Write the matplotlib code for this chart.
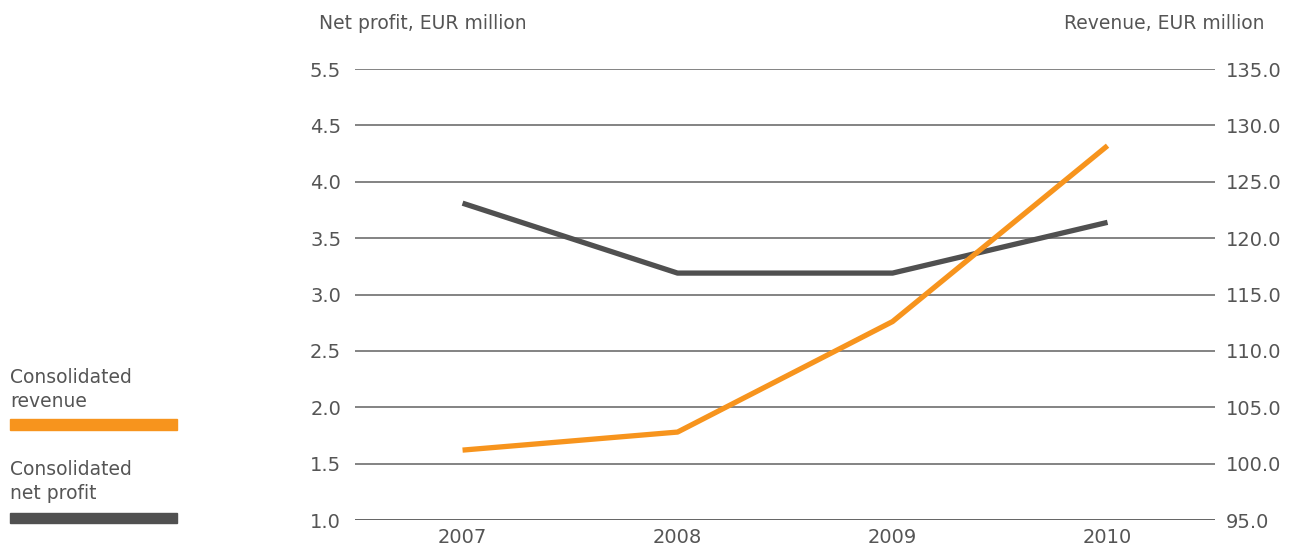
import matplotlib.pyplot as plt
from matplotlib.patches import Rectangle

# Yearly figures, EUR million
years = ['2007', '2008', '2009', '2010']
net_profit = [3.81, 3.19, 3.19, 3.64]
revenue = [101.2, 102.8, 112.6, 128.2]

# left scale: evenly spaced lines, the top one carries the label 5.5
profit_ticks = [1.0, 1.5, 2.0, 2.5, 3.0, 3.5, 4.0, 4.5, 5.0]
profit_labels = ['1.0', '1.5', '2.0', '2.5', '3.0', '3.5', '4.0', '4.5', '5.5']
revenue_ticks = [95.0, 100.0, 105.0, 110.0, 115.0, 120.0, 125.0, 130.0, 135.0]

ORANGE = '#F7941D'
DARK = '#505050'
TEXT = '#555555'
GRID = '#7a7a7a'

plt.rcParams['font.family'] = ['DejaVu Sans']

fig = plt.figure(figsize=(12.93, 5.49), dpi=100)
ax = fig.add_axes([0.2746, 0.0528, 0.6651, 0.8215])
ax2 = ax.twinx()

x = list(range(len(years)))

for v in profit_ticks:
    ax.axhline(v, color=GRID if v > 1.0 else '#555555',
               lw=1.3 if v > 1.0 else 2.0, zorder=1)

ax.plot(x, net_profit, color=DARK, lw=3.8, solid_capstyle='butt', zorder=3)
ax2.plot(x, revenue, color=ORANGE, lw=3.8, solid_capstyle='butt', zorder=3)

ax.set_xlim(-0.5, 3.5)
ax.set_ylim(1.0, 5.0)
ax2.set_ylim(95.0, 135.0)

ax.set_yticks(profit_ticks)
ax.set_yticklabels(profit_labels)
ax2.set_yticks(revenue_ticks)
ax2.set_yticklabels([f'{v:.1f}' for v in revenue_ticks])
ax.set_xticks(x)
ax.set_xticklabels(years)

for a in (ax, ax2):
    for s in a.spines.values():
        s.set_visible(False)
    a.tick_params(axis='both', length=0, labelsize=14, labelcolor=TEXT)
ax.tick_params(axis='y', pad=10)
ax2.tick_params(axis='y', pad=8)
ax.tick_params(axis='x', pad=6)

fig.text(0.2467, 0.958, 'Net profit, EUR million', fontsize=13.5, color=TEXT, va='center')
fig.text(0.9776, 0.958, 'Revenue, EUR million', fontsize=13.5, color=TEXT, va='center', ha='right')

# legend drawn by hand on the left
fig.text(0.0077, 0.290, 'Consolidated\nrevenue', fontsize=13.5, color=TEXT,
         va='center', linespacing=1.35)
fig.add_artist(Rectangle((0.0077, 1 - 430 / 549), 0.1292, 11 / 549,
                         transform=fig.transFigure, color=ORANGE))
fig.text(0.0077, 0.123, 'Consolidated\nnet profit', fontsize=13.5, color=TEXT,
         va='center', linespacing=1.35)
fig.add_artist(Rectangle((0.0077, 1 - 523 / 549), 0.1292, 10 / 549,
                         transform=fig.transFigure, color=DARK))

fig.savefig('out.png', dpi=100)
